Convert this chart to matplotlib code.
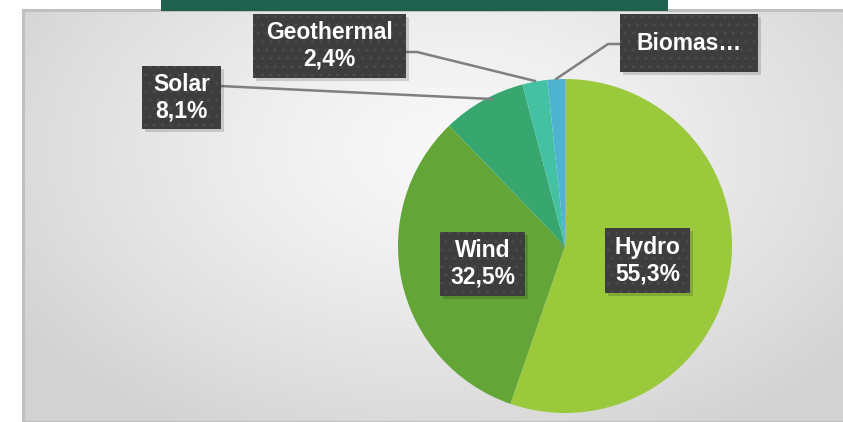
import numpy as np
import matplotlib
matplotlib.use('Agg')
import matplotlib.pyplot as plt
from matplotlib.patches import Rectangle

plt.rcParams['font.family'] = ['Liberation Sans', 'DejaVu Sans']

# data
sources = ['Hydro', 'Wind', 'Solar', 'Geothermal', 'Biomass']
shares = [55.3, 32.5, 8.1, 2.4, 1.7]
colors = ['#9aca3c', '#63a537', '#37a76f', '#44c1a3', '#4eb3cf']
label_text = ['Hydro\n55,3%', 'Wind\n32,5%', 'Solar\n8,1%', 'Geothermal\n2,4%', 'Biomas…']

W, H = 843, 422
fig = plt.figure(figsize=(W / 100, H / 100), dpi=100)
ax = fig.add_axes([0, 0, 1, 1])

def Y(y):
    # pixel row -> data y
    return H - y

# panel with radial gradient
gx, gy = np.meshgrid(np.linspace(23, W, 400), np.linspace(10, H, 200))
d = np.sqrt(((gx - 450) / 520) ** 2 + ((gy - 150) / 330) ** 2)
d = np.clip(d, 0, 1)
shade = 0.975 - 0.15 * d ** 1.3
img = np.dstack([shade, shade, shade])
ax.imshow(img, extent=(23, W, Y(H), Y(10)), origin='upper', aspect='auto', zorder=0)
ax.add_patch(Rectangle((23, 0), W, Y(10), fill=False, ec='#c0c0c0', lw=2.2, zorder=1))

# title bar
ax.add_patch(Rectangle((161, Y(11)), 507, 11, fc='#1f604f', ec='none', zorder=2))

# pie
cx, cy, r = 565, Y(246), 167
wedges, _ = ax.pie(shares, colors=colors, startangle=90, counterclock=False,
                   center=(cx, cy), radius=r, frame=True,
                   wedgeprops=dict(linewidth=0))
for w in wedges:
    w.set_zorder(3)
ax.set_xlim(0, W)
ax.set_ylim(0, H)
ax.set_aspect('auto')
ax.axis('off')

# leader lines
lc = '#7f7f7f'
ax.plot([220, 492], [Y(86), Y(99)], color=lc, lw=1.8, zorder=4)
ax.plot([404, 417, 535], [Y(52), Y(52), Y(81)], color=lc, lw=1.8, zorder=4)
ax.plot([620, 608, 556], [Y(44), Y(44), Y(79)], color=lc, lw=1.8, zorder=4)

# label boxes (x0, y0, w, h in pixels)
boxes = [(605, 228, 85, 65), (440, 232, 85, 64), (142, 66, 79, 63),
         (253, 14, 153, 64), (620, 14, 138, 58)]
for txt, (bx, by, bw, bh) in zip(label_text, boxes):
    ax.add_patch(Rectangle((bx + 3, Y(by + bh + 3)), bw, bh, fc='#000000', alpha=0.15,
                           ec='none', zorder=5))
    ax.add_patch(Rectangle((bx, Y(by + bh)), bw, bh, fc='#3d3d3d', ec='#4b4b4b',
                           lw=0, hatch='..', zorder=6))
    ax.text(bx + bw / 2, Y(by + bh / 2), txt, color='white', fontsize=16.5,
            fontweight='bold', ha='center', va='center', linespacing=1.17, zorder=7)

fig.savefig('out.png', dpi=100)
